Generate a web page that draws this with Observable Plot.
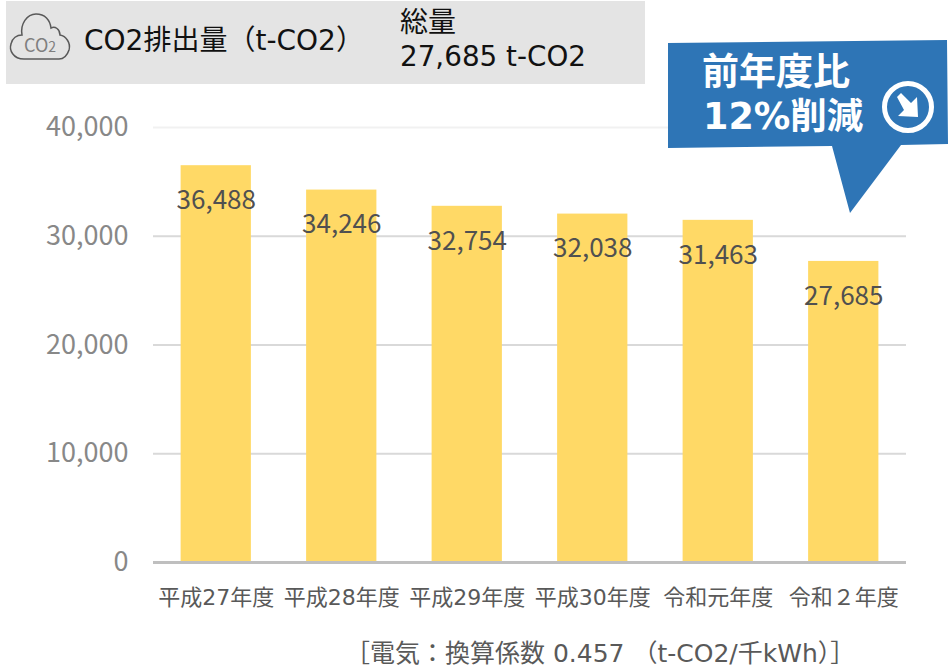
<!DOCTYPE html>
<html lang="ja">
<head>
<meta charset="utf-8">
<script src="https://cdn.jsdelivr.net/npm/d3@7"></script>
<script src="https://cdn.jsdelivr.net/npm/@observablehq/plot@0.6"></script>
<style>
html,body{margin:0;padding:0;background:#fff;}
#page{position:relative;width:950px;height:671px;overflow:hidden;font-family:"DejaVu Sans","Noto Sans CJK JP",sans-serif;}
#chart{position:absolute;left:0;top:0;}
#chart svg{display:block;}
.abs{position:absolute;white-space:nowrap;line-height:1;}
#band{left:6px;top:1px;width:639px;height:83px;background:#e4e4e4;}
#overlay{position:absolute;left:0;top:0;}
</style>
</head>
<body>
<div id="page">
<div id="chart"></div>
<div class="abs" id="band"></div>
<svg id="overlay" width="950" height="671" viewBox="0 0 950 671">
  <path d="M24 59 C13 59 9 50 11 44 C12 38 17 35 22 35 C20 24 27 14 36 14 C45 14 50 20 51 28 C55 26 60 29 60 35 C66 36 71 43 69 50 C67 56 64 59 59 59 Z" fill="none" stroke="#595959" stroke-width="1.5"/>
  <text x="40" y="52" text-anchor="middle" font-size="18" fill="#7f7f7f" font-family="Noto Sans CJK JP">CO<tspan font-size="14">2</tspan></text>
  <polygon points="668,43 947,40 948,144 901,145 850,213 832,146 668,148" fill="#2e75b6"/>
  <circle cx="908" cy="107" r="23.5" fill="none" stroke="#fff" stroke-width="5"/>
  <path d="M897 97 L901 93 L911 103 L917 97 L918 117 L898 116 L904 110 Z" fill="#fff"/>
</svg>
<div class="abs" style="left:84px;top:27px;font-size:28px;color:#111;">CO2排出量（t-CO2）</div>
<div class="abs" style="left:400px;top:9px;font-size:28px;color:#111;">総量</div>
<div class="abs" style="left:400px;top:43px;font-size:27.8px;color:#111;">27,685 t-CO2</div>
<div class="abs" style="left:702px;top:54px;font-size:37px;font-weight:700;color:#fff;">前年度比</div>
<div class="abs" style="left:703px;top:99px;font-size:36.5px;font-weight:700;color:#fff;">12%削減</div>
<div class="abs" style="left:345px;top:641px;font-size:25px;color:#595959;">［電気：換算係数 0.457 （t-CO2/千kWh）］</div>
</div>
<script>
const years = ["平成27年度","平成28年度","平成29年度","平成30年度","令和元年度","令和２年度"];
const emissions = [36488,34246,32754,32038,31463,27685];
const gridValues = [10000,20000,30000];
const topGrid = [40000];
const yTicks = [0,10000,20000,30000,40000];

const table = years.map((year,i)=>({year,value:emissions[i]}));
const fmt = d3.format(",");
const numFont = '"Noto Sans CJK JP","Noto Sans",sans-serif';

const plot = Plot.plot({
  width:950,height:671,
  marginLeft:153,marginRight:44,marginTop:127,marginBottom:109,
  style:{fontFamily:numFont,background:"transparent",overflow:"visible"},
  x:{domain:years,paddingInner:0.44,paddingOuter:0.22,round:false,label:null},
  y:{domain:[0,40000],label:null},
  marks:[
    Plot.ruleY(gridValues,{stroke:"#d9d9d9",strokeWidth:2,strokeOpacity:1}),
    Plot.ruleY(topGrid,{stroke:"#f1f1f1",strokeWidth:2,strokeOpacity:1}),
    Plot.barY(table,{x:"year",y:"value",fill:"#ffd966"}),
    Plot.ruleY([0],{stroke:"#bfbfbf",strokeWidth:3,strokeOpacity:1}),
    Plot.text(table,{x:"year",y:"value",text:d=>fmt(d.value),dy:35,fontSize:26,fill:"#505050"}),
    Plot.axisY({ticks:yTicks,tickFormat:fmt,tickSize:0,tickPadding:25,fontSize:27,color:"#888888",label:null}),
    Plot.axisX({tickSize:0,tickPadding:27,fontSize:22,color:"#595959",fontFamily:'"DejaVu Sans","Noto Sans CJK JP",sans-serif',label:null})
  ]
});
document.getElementById("chart").appendChild(plot);
</script>
</body>
</html>
